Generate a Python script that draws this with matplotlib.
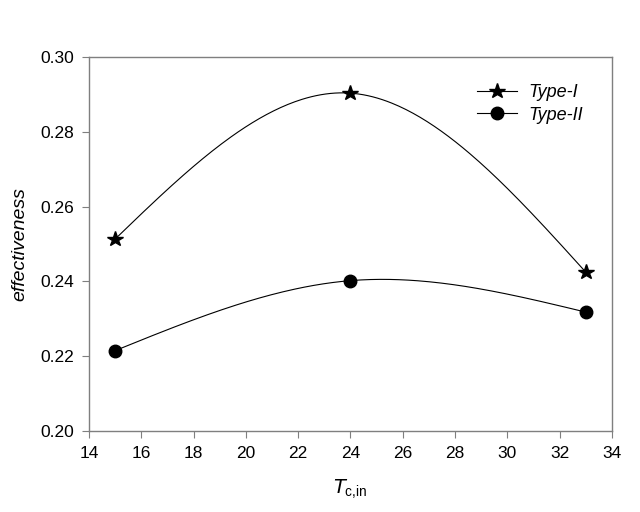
import numpy as np
import matplotlib
matplotlib.use("Agg")
from matplotlib import pyplot as plt

plt.rcParams['font.family'] = ['Liberation Sans', 'DejaVu Sans']

t_in = [15, 24, 33]
type1 = [0.2513, 0.2903, 0.2425]
type2 = [0.2215, 0.2402, 0.2318]


def natural_spline(x, y, n=200):
    # natural cubic spline through the points, only for drawing the line
    x = np.asarray(x, float)
    y = np.asarray(y, float)
    k = len(x)
    h = np.diff(x)
    A = np.zeros((k, k))
    b = np.zeros(k)
    A[0, 0] = 1
    A[-1, -1] = 1
    for i in range(1, k - 1):
        A[i, i - 1] = h[i - 1]
        A[i, i] = 2 * (h[i - 1] + h[i])
        A[i, i + 1] = h[i]
        b[i] = 6 * ((y[i + 1] - y[i]) / h[i] - (y[i] - y[i - 1]) / h[i - 1])
    m = np.linalg.solve(A, b)
    xs = np.linspace(x[0], x[-1], n)
    ys = np.empty_like(xs)
    for j, xv in enumerate(xs):
        i = min(np.searchsorted(x, xv, side='right') - 1, k - 2)
        a = x[i + 1] - xv
        c = xv - x[i]
        ys[j] = (m[i] * a**3 + m[i + 1] * c**3) / (6 * h[i]) \
            + (y[i] / h[i] - m[i] * h[i] / 6) * a \
            + (y[i + 1] / h[i] - m[i + 1] * h[i] / 6) * c
    return xs, ys


fig = plt.figure(figsize=(6.4, 5.12), dpi=100)
ax = fig.add_axes([0.139, 0.158, 0.817, 0.731])

for vals, mk, ms, lab in [(type1, '*', 11.5, 'Type-I'), (type2, 'o', 9, 'Type-II')]:
    xs, ys = natural_spline(t_in, vals)
    ax.plot(xs, ys, color='black', lw=0.8)
    ax.plot(t_in, vals, linestyle='none', marker=mk, ms=ms, color='black')
    ax.plot([], [], color='black', lw=0.8, marker=mk, ms=ms, label=lab)

ax.set_xlim(14, 34)
ax.set_ylim(0.20, 0.30)
ax.set_xticks(np.arange(14, 35, 2))
ax.set_yticks(np.arange(0.20, 0.301, 0.02))
ax.set_yticklabels(['%.2f' % v for v in np.arange(0.20, 0.301, 0.02)])

for s in ax.spines.values():
    s.set_color('#7f7f7f')
    s.set_linewidth(1.0)
ax.tick_params(direction='out', length=5, color='#7f7f7f', labelsize=12.5, pad=6)

ax.set_xlabel(r'$T_{\mathregular{c{,}in}}$', fontsize=14, labelpad=12)
ax.set_ylabel('effectiveness', fontsize=14, style='italic', labelpad=8)

leg = ax.legend(loc='upper right', bbox_to_anchor=(0.975, 0.97), frameon=False,
                fontsize=13, handlelength=2.2, labelspacing=0.3, handletextpad=0.6)
for t in leg.get_texts():
    t.set_style('italic')

fig.savefig('out.png', dpi=100)
